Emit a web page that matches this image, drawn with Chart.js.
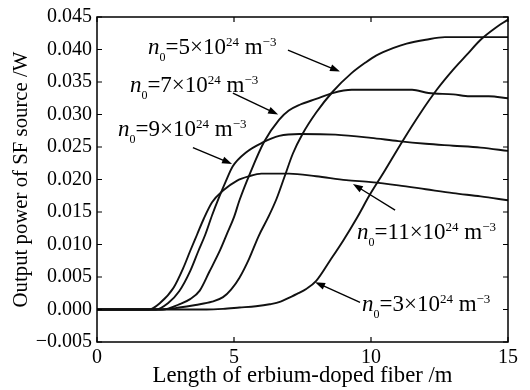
<!DOCTYPE html>
<html>
<head>
<meta charset="utf-8">
<script src="https://cdn.jsdelivr.net/npm/chart.js@4.4.0/dist/chart.umd.min.js"></script>
<style>
  html, body { margin: 0; padding: 0; background: #fff; }
</style>
</head>
<body>
<canvas id="fiberChart" width="530" height="390"></canvas>
<script>
// values: fiber length (m) vs output power (W), per doping level n0
const lenN3 = [0, 2, 4, 4.6, 5.2, 5.8, 6.3, 6.7, 7.0, 7.3, 7.65, 8.0, 8.5, 9.0, 9.5, 9.95, 10.45, 11.15, 11.8, 12.4, 13.0, 13.5, 14.0, 14.5, 15];
const powN3 = [0, 0, 0, 0.0001, 0.0003, 0.0005, 0.0008, 0.0012, 0.0018, 0.0024, 0.0032, 0.0044, 0.0075, 0.0107, 0.0142, 0.0176, 0.021, 0.0259, 0.0302, 0.0338, 0.0369, 0.0392, 0.0415, 0.0432, 0.0446];

const lenN5 = [0, 2.3, 3.0, 3.6, 4.2, 4.6, 4.9, 5.2, 5.55, 5.9, 6.25, 6.55, 6.85, 7.15, 7.5, 8.0, 8.6, 9.3, 9.8, 10.2, 10.8, 11.3, 12.0, 12.7, 13.5, 14.2, 15];
const powN5 = [0, 0, 0.0003, 0.0007, 0.0012, 0.0019, 0.0031, 0.0049, 0.0078, 0.0113, 0.0142, 0.017, 0.0205, 0.024, 0.027, 0.0303, 0.0335, 0.0364, 0.038, 0.0391, 0.0402, 0.0409, 0.0415, 0.0419, 0.0419, 0.0419, 0.0419];

const lenN7 = [0, 2.4, 3.0, 3.4, 3.75, 4.1, 4.5, 4.75, 5.0, 5.2, 5.6, 6.1, 6.65, 7.0, 7.4, 8.0, 8.6, 9.3, 10.0, 11.5, 12.1, 13.0, 13.6, 14.3, 15];
const powN7 = [0, 0, 0.0008, 0.0016, 0.0029, 0.0058, 0.0092, 0.0117, 0.0142, 0.0168, 0.0211, 0.0258, 0.0292, 0.0306, 0.0315, 0.0324, 0.0333, 0.0338, 0.0338, 0.0338, 0.0333, 0.0331, 0.0328, 0.0328, 0.0325];

const lenN9 = [0, 2.15, 2.6, 3.0, 3.4, 3.7, 3.95, 4.2, 4.45, 4.7, 4.95, 5.45, 6.05, 6.65, 7.4, 8.7, 10.0, 11.0, 12.0, 13.0, 14.0, 15];
const powN9 = [0, 0, 0.001, 0.0028, 0.0059, 0.009, 0.0115, 0.0145, 0.0172, 0.0197, 0.022, 0.0242, 0.0257, 0.0267, 0.027, 0.0269, 0.0264, 0.0259, 0.0255, 0.0252, 0.0249, 0.0244];

const lenN11 = [0, 1.9, 2.3, 2.8, 3.15, 3.4, 3.65, 3.9, 4.2, 4.6, 5.1, 5.55, 6.0, 7.0, 8.0, 9.1, 10.0, 11.0, 12.0, 13.0, 14.0, 15];
const powN11 = [0, 0, 0.001, 0.0034, 0.0064, 0.009, 0.0115, 0.014, 0.0165, 0.0183, 0.0198, 0.0205, 0.0209, 0.0209, 0.0205, 0.0199, 0.0196, 0.0191, 0.0185, 0.0179, 0.0174, 0.0168];

const xTicks = [0, 5, 10, 15];
const yTicks = [-0.005, 0, 0.005, 0.01, 0.015, 0.02, 0.025, 0.03, 0.035, 0.04, 0.045];

const serif = "'Liberation Serif', 'Times New Roman', serif";

function toPoints(xs, ys) {
  return xs.map((x, i) => ({ x: x, y: ys[i] }));
}

function curve(label, xs, ys) {
  return {
    label: label,
    data: toPoints(xs, ys),
    borderColor: "#111",
    borderWidth: 1.9,
    pointRadius: 0,
    fill: false,
    cubicInterpolationMode: "monotone",
  };
}

// labels with arrows, placed in data units: [coef, textX, textY, tailX, tailY, tipX, tipY]
const notes = [
  ["5", 1.86, 0.0404, 6.97, 0.0399, 8.87, 0.0366],
  ["7", 1.2, 0.0345, 4.96, 0.0333, 6.61, 0.03],
  ["9", 0.77, 0.0277, 3.5, 0.0249, 4.93, 0.0224],
  ["11", 9.49, 0.012, 10.88, 0.0153, 9.34, 0.0193],
  ["3", 9.67, 0.0009, 9.6, 0.0011, 7.96, 0.0042],
];

function drawArrow(ctx, x1, y1, x2, y2) {
  const ang = Math.atan2(y2 - y1, x2 - x1);
  const head = 10;
  ctx.beginPath();
  ctx.moveTo(x1, y1);
  ctx.lineTo(x2 - Math.cos(ang) * head * 0.8, y2 - Math.sin(ang) * head * 0.8);
  ctx.stroke();
  ctx.beginPath();
  ctx.moveTo(x2, y2);
  ctx.lineTo(x2 - head * Math.cos(ang) + 3.5 * Math.sin(ang), y2 - head * Math.sin(ang) - 3.5 * Math.cos(ang));
  ctx.lineTo(x2 - head * Math.cos(ang) - 3.5 * Math.sin(ang), y2 - head * Math.sin(ang) + 3.5 * Math.cos(ang));
  ctx.closePath();
  ctx.fill();
}

function drawLabel(ctx, x, cy, coef) {
  const base = cy + 7;
  const parts = [
    { t: "n", font: "italic 23px " + serif, dy: 0 },
    { t: "0", font: "12px " + serif, dy: 7 },
    { t: "=" + coef + "\u00d710", font: "23px " + serif, dy: 0 },
    { t: "24", font: "13px " + serif, dy: -8 },
    { t: " m", font: "23px " + serif, dy: 0 },
    { t: "\u22123", font: "13px " + serif, dy: -8 },
  ];
  let cx = x;
  parts.forEach((p) => {
    ctx.font = p.font;
    ctx.fillText(p.t, cx, base + p.dy);
    cx += ctx.measureText(p.t).width;
  });
}

const framePlugin = {
  id: "frame",
  afterDraw(chart) {
    const ctx = chart.ctx;
    const a = chart.chartArea;
    const sx = chart.scales.x;
    const sy = chart.scales.y;
    ctx.save();
    ctx.strokeStyle = "#000";
    ctx.fillStyle = "#000";
    ctx.lineWidth = 1.5;
    ctx.strokeRect(a.left, a.top, a.right - a.left, a.bottom - a.top);
    ctx.lineWidth = 1.2;
    ctx.beginPath();
    xTicks.forEach((v) => {
      const px = sx.getPixelForValue(v);
      ctx.moveTo(px, a.bottom);
      ctx.lineTo(px, a.bottom - 5);
      ctx.moveTo(px, a.top);
      ctx.lineTo(px, a.top + 5);
    });
    yTicks.forEach((v) => {
      const py = sy.getPixelForValue(v);
      ctx.moveTo(a.left, py);
      ctx.lineTo(a.left + 5, py);
      ctx.moveTo(a.right, py);
      ctx.lineTo(a.right - 5, py);
    });
    ctx.stroke();

    ctx.lineWidth = 1.4;
    ctx.textBaseline = "alphabetic";
    ctx.textAlign = "left";
    notes.forEach((n) => {
      drawArrow(ctx, sx.getPixelForValue(n[3]), sy.getPixelForValue(n[4]), sx.getPixelForValue(n[5]), sy.getPixelForValue(n[6]));
      drawLabel(ctx, sx.getPixelForValue(n[1]), sy.getPixelForValue(n[2]), n[0]);
    });
    ctx.restore();
  },
};

Chart.defaults.color = "#000";

new Chart(document.getElementById("fiberChart"), {
  type: "line",
  data: {
    datasets: [
      curve("n0=3", lenN3, powN3),
      curve("n0=5", lenN5, powN5),
      curve("n0=7", lenN7, powN7),
      curve("n0=9", lenN9, powN9),
      curve("n0=11", lenN11, powN11),
    ],
  },
  options: {
    responsive: false,
    animation: false,
    layout: { padding: { top: 13, right: 22, left: 0, bottom: 0 } },
    plugins: { legend: { display: false }, tooltip: { enabled: false } },
    scales: {
      x: {
        type: "linear",
        min: 0,
        max: 15,
        grid: { display: false, drawTicks: false },
        border: { display: false },
        afterBuildTicks: (s) => { s.ticks = xTicks.map((v) => ({ value: v })); },
        ticks: { padding: 4, maxRotation: 0, font: { family: serif, size: 20 } },
        title: { display: true, text: "Length of erbium-doped fiber /m", padding: { top: 0, bottom: 0 }, font: { family: serif, size: 22.7 } },
        afterFit: (s) => { s.height = 48; },
      },
      y: {
        min: -0.005,
        max: 0.045,
        grid: { display: false, drawTicks: false },
        border: { display: false },
        afterBuildTicks: (s) => { s.ticks = yTicks.map((v) => ({ value: v })); },
        ticks: {
          padding: 5,
          font: { family: serif, size: 20 },
          callback: (v) => (Math.abs(v) < 1e-9 ? "0.000" : v < 0 ? "\u2212" + Math.abs(v).toFixed(3) : v.toFixed(3)),
        },
        title: { display: true, text: "Output power of SF source /W", padding: { top: 9, bottom: 0 }, font: { family: serif, size: 20.8 } },
        afterFit: (s) => { s.width = 97; },
      },
    },
  },
  plugins: [framePlugin],
});
</script>
</body>
</html>
